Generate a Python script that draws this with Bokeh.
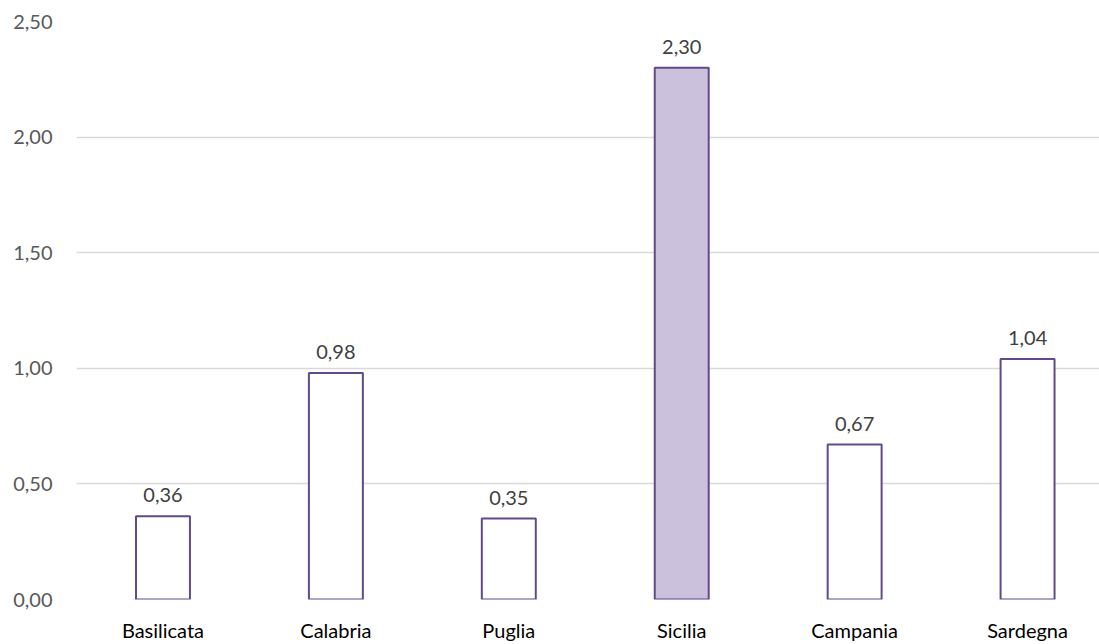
from bokeh.plotting import figure
from bokeh.models import ColumnDataSource, Range1d, FixedTicker, CustomJSTickFormatter
from bokeh.core.properties import value
from bokeh.embed import file_html
from bokeh.resources import INLINE

regions = ["Basilicata", "Calabria", "Puglia", "Sicilia", "Campania", "Sardegna"]
values = [0.36, 0.98, 0.35, 2.30, 0.67, 1.04]
fills = ["#FFFFFF", "#FFFFFF", "#FFFFFF", "#CBC1DC", "#FFFFFF", "#FFFFFF"]
y_ticks = [0.0, 0.5, 1.0, 1.5, 2.0, 2.5]

pos = list(range(len(regions)))
labels = [f"{v:.2f}".replace(".", ",") for v in values]
src = ColumnDataSource(dict(x=pos, value=values, fill=fills, label=labels))

FONT = "Lato"
FS = "20px"

# the category band runs a little past the right edge of the page
p = figure(
    width=1099, height=644,
    x_range=Range1d(-0.5, 5.416),
    y_range=Range1d(0, 2.5),
    output_backend="svg", toolbar_location=None,
    min_border_left=76, min_border_right=0, min_border_top=21, min_border_bottom=0,
)
p.outline_line_color = None
p.background_fill_color = "white"

p.vbar(x="x", top="value", width=0.312, source=src,
       fill_color="fill", line_color="#604A8A", line_width=2)

p.text(x="x", y="value", text="label", source=src,
       text_align="center", text_baseline="alphabetic", y_offset=-21,
       text_font=value(FONT), text_font_size=FS, text_color="#404040")

p.yaxis.ticker = FixedTicker(ticks=y_ticks)
p.yaxis.formatter = CustomJSTickFormatter(code="return tick.toFixed(2).replace('.', ',');")
p.yaxis.axis_line_color = None
p.yaxis.major_tick_line_color = None
p.yaxis.minor_tick_line_color = None
p.yaxis.major_label_text_font = FONT
p.yaxis.major_label_text_font_size = FS
p.yaxis.major_label_text_color = "#595959"
p.yaxis.major_label_standoff = 18

p.xaxis.ticker = FixedTicker(ticks=pos)
p.xaxis.major_label_overrides = {i: r for i, r in zip(pos, regions)}
p.xaxis.axis_line_color = None
p.xaxis.major_tick_line_color = None
p.xaxis.minor_tick_line_color = None
p.xaxis.major_label_text_font = FONT
p.xaxis.major_label_text_font_size = FS
p.xaxis.major_label_text_color = "#000000"
p.xaxis.major_label_standoff = 12

p.xgrid.grid_line_color = None
p.ygrid.grid_line_color = "#D9D9D9"
p.ygrid.grid_line_width = 1.5
p.ygrid.ticker = FixedTicker(ticks=y_ticks)

open("out.html", "w").write(file_html(p, INLINE))
